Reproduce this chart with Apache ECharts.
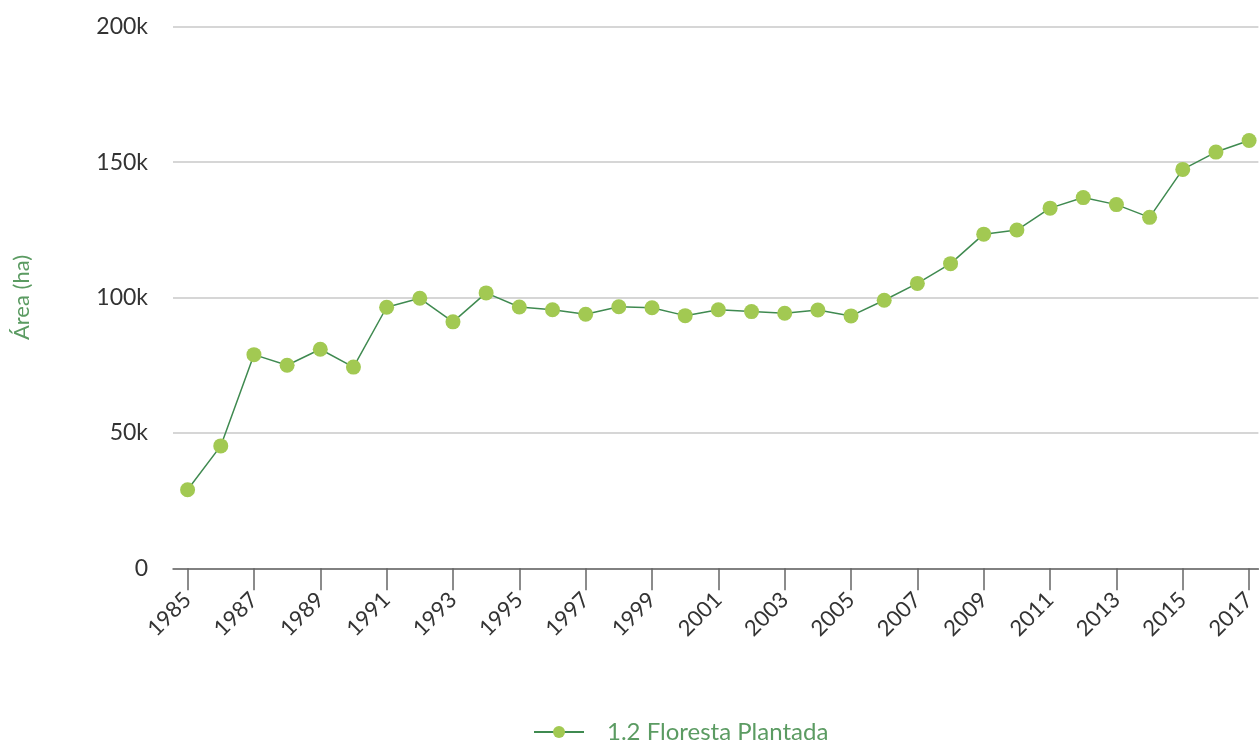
<!DOCTYPE html>
<html>
<head>
<meta charset="utf-8">
<title>Floresta Plantada</title>
<script src="https://cdn.jsdelivr.net/npm/echarts@6/dist/echarts.min.js"></script>
<style>
  html, body { margin: 0; padding: 0; background: #fff; }
  #chart { width: 1259px; height: 744px; }
</style>
</head>
<body>
<div id="chart"></div>
<script>
// anos e área plantada (ha)
const years = [1985, 1986, 1987, 1988, 1989, 1990, 1991, 1992, 1993, 1994, 1995,
  1996, 1997, 1998, 1999, 2000, 2001, 2002, 2003, 2004, 2005, 2006, 2007, 2008,
  2009, 2010, 2011, 2012, 2013, 2014, 2015, 2016, 2017];
const area = [29000, 45200, 78900, 75000, 80900, 74300, 96400, 99700, 91000, 101700, 96500,
  95500, 93800, 96600, 96200, 93300, 95500, 94800, 94200, 95400, 93200, 99000, 105200, 112500,
  123400, 124900, 133000, 136900, 134300, 129600, 147300, 153700, 158000];
const tickYears = [1985, 1987, 1989, 1991, 1993, 1995, 1997, 1999, 2001, 2003, 2005,
  2007, 2009, 2011, 2013, 2015, 2017];
const seriesName = '1.2 Floresta Plantada';

const font = 'Lato, "Noto Sans", sans-serif';
const green = '#5b9b62';

const chart = echarts.init(document.getElementById('chart'));

const option = {
  backgroundColor: '#ffffff',
  animation: false,
  grid: {
    left: 173,
    right: 0,
    top: 26.7,
    bottom: 175.7,
    containLabel: false
  },
  legend: {
    left: 528,
    top: 715,
    itemWidth: 50,
    itemHeight: 15,
    data: [seriesName],
    textStyle: {
      color: green,
      fontFamily: font,
      fontSize: 24,
      padding: [0, 0, 0, 18]
    }
  },
  xAxis: {
    type: 'value',
    min: 1984.56,
    max: 2017.28,
    splitLine: { show: false },
    axisLine: { show: true, lineStyle: { color: '#666666', width: 1.5 } },
    axisTick: {
      show: true,
      customValues: tickYears,
      length: 22,
      lineStyle: { color: '#666666', width: 1.5 }
    },
    axisLabel: {
      customValues: tickYears,
      rotate: 45,
      margin: 28,
      color: '#333333',
      fontFamily: font,
      fontSize: 22,
      formatter: (v) => String(v)
    }
  },
  yAxis: {
    type: 'value',
    min: 0,
    max: 200000,
    interval: 50000,
    name: 'Área (ha)',
    nameLocation: 'middle',
    nameGap: 140,
    nameTextStyle: {
      color: green,
      fontFamily: font,
      fontSize: 22
    },
    axisLine: { show: false },
    axisTick: { show: false },
    splitLine: { lineStyle: { color: '#c8c8c8', width: 1.5 } },
    axisLabel: {
      margin: 25,
      color: '#333333',
      fontFamily: font,
      fontSize: 23,
      formatter: (v) => v === 0 ? '0' : (v / 1000) + 'k'
    }
  },
  series: [
    {
      name: seriesName,
      type: 'line',
      data: years.map((y, i) => [y, area[i]]),
      symbol: 'circle',
      symbolSize: 15,
      itemStyle: { color: '#a2c952', borderWidth: 0 },
      lineStyle: { color: '#3f8a50', width: 1.5 }
    }
  ]
};

chart.setOption(option);
</script>
</body>
</html>
